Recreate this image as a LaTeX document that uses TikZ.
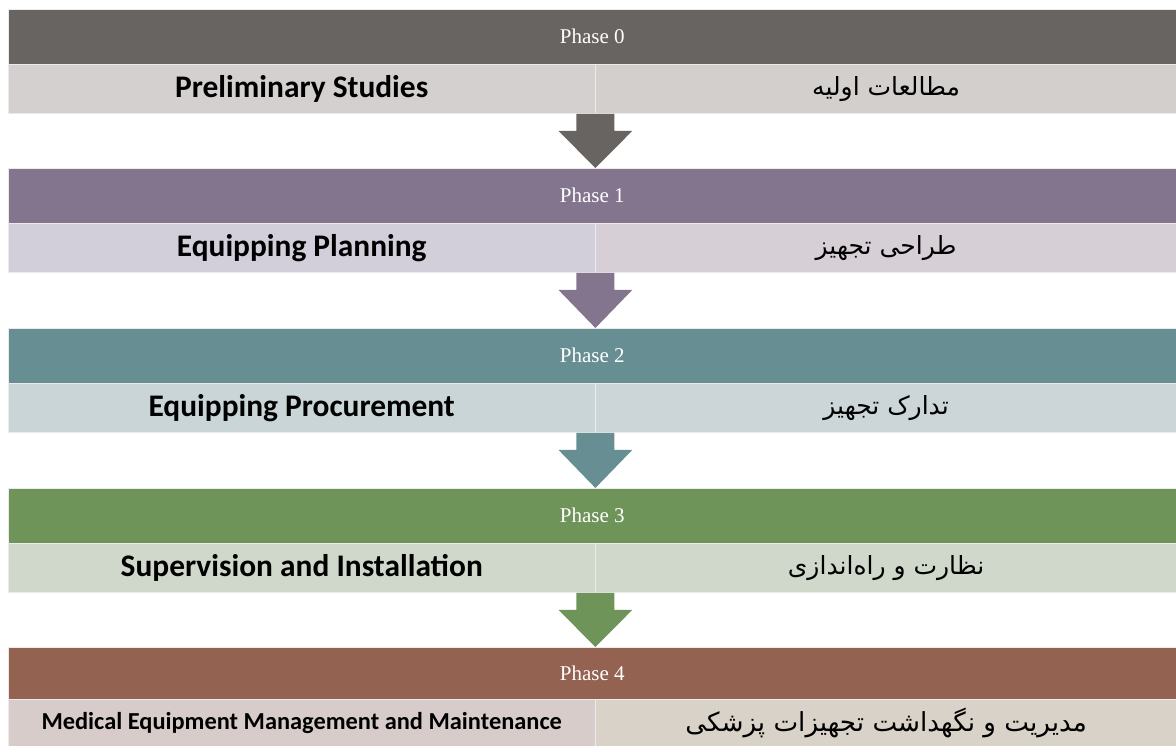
\documentclass[tikz,border=0pt]{standalone}
\usepackage{fontspec}
\setmainfont{Liberation Serif}
\newfontfamily\enfont{Carlito}
\newfontfamily\fafont[Script=Arabic]{DejaVu Sans}
\TeXXeTstate=1
\usetikzlibrary{calc}
\definecolor{hA}{HTML}{686462}\definecolor{lA}{HTML}{D4D0D0}\definecolor{rA}{HTML}{D2CFCD}
\definecolor{hB}{HTML}{84758F}\definecolor{lB}{HTML}{D2CEDA}\definecolor{rB}{HTML}{D6CFD6}
\definecolor{hC}{HTML}{678F93}\definecolor{lC}{HTML}{CAD5D7}\definecolor{rC}{HTML}{CCD5D8}
\definecolor{hD}{HTML}{6F9459}\definecolor{lD}{HTML}{CFD8CA}\definecolor{rD}{HTML}{CFD8CB}
\definecolor{hE}{HTML}{946251}\definecolor{lE}{HTML}{D7CCCA}\definecolor{rE}{HTML}{D8D2C8}
\definecolor{sepline}{HTML}{ECEAEA}
\tikzset{
  hdr/.style={anchor=north west, minimum width=1168pt, inner sep=0pt, draw=sepline, line width=0.4pt,
    text=white, font=\fontsize{21}{21}\selectfont},
  cellL/.style={anchor=north west, minimum width=587pt, inner sep=0pt, draw=sepline, line width=0.4pt,
    font=\enfont\bfseries\fontsize{31.4}{31.4}\selectfont, text=black},
  cellR/.style={anchor=north west, minimum width=581pt, inner sep=0pt, draw=sepline, line width=0.4pt,
    font=\fafont\fontsize{25}{25}\selectfont, text=black}
}
\begin{document}
\begin{tikzpicture}[x=1pt,y=-1pt]
\useasboundingbox[fill=white] (0,0) rectangle (1176,745);
% Phase 0
\node[hdr, fill=hA, minimum height=54.5pt] (h0) at (8,9) {Phase 0};
\node[cellL, fill=lA, minimum height=49.5pt] (l0) at (h0.south west) {Preliminary Studies};
\node[cellR, fill=rA, minimum height=49.5pt] (r0) at (l0.north east) {\beginR مطالعات اولیه\endR};
% Phase 1
\node[hdr, fill=hB, minimum height=55pt] (h1) at (8,168) {Phase 1};
\node[cellL, fill=lB, minimum height=49pt] (l1) at (h1.south west) {Equipping Planning};
\node[cellR, fill=rB, minimum height=49pt] (r1) at (l1.north east) {\beginR طراحی تجهیز\endR};
% Phase 2
\node[hdr, fill=hC, minimum height=55pt] (h2) at (8,328) {Phase 2};
\node[cellL, fill=lC, minimum height=49pt] (l2) at (h2.south west) {Equipping Procurement};
\node[cellR, fill=rC, minimum height=49pt] (r2) at (l2.north east) {\beginR تدارک تجهیز\endR};
% Phase 3
\node[hdr, fill=hD, minimum height=55pt] (h3) at (8,488) {Phase 3};
\node[cellL, fill=lD, minimum height=49pt] (l3) at (h3.south west) {Supervision and Installation};
\node[cellR, fill=rD, minimum height=49pt] (r3) at (l3.north east) {\beginR نظارت و راه‌اندازی\endR};
% Phase 4
\node[hdr, fill=hE, minimum height=52pt] (h4) at (8,647) {Phase 4};
\node[cellL, fill=lE, minimum height=47pt, font=\enfont\bfseries\fontsize{24.4}{24.4}\selectfont] (l4) at (h4.south west) {Medical Equipment Management and Maintenance};
\node[cellR, fill=rE, minimum height=47pt, font=\fafont\fontsize{26.2}{26.2}\selectfont] (r4) at (l4.north east) {\beginR مدیریت و نگهداشت تجهیزات پزشکی\endR};
% Arrows
\foreach \a/\b/\c in {l0/h1/hA, l1/h2/hB, l2/h3/hC, l3/h4/hD}{
  \fill[\c] ([xshift=-19pt]\a.south east) -- ([xshift=19pt]\a.south east)
    -- ([xshift=19pt,yshift=-17pt]\a.south east) -- ([xshift=37pt,yshift=-17pt]\a.south east)
    -- (\b.north -| \a.south east)
    -- ([xshift=-37pt,yshift=-17pt]\a.south east) -- ([xshift=-19pt,yshift=-17pt]\a.south east) -- cycle;
}
\end{tikzpicture}
\end{document}
